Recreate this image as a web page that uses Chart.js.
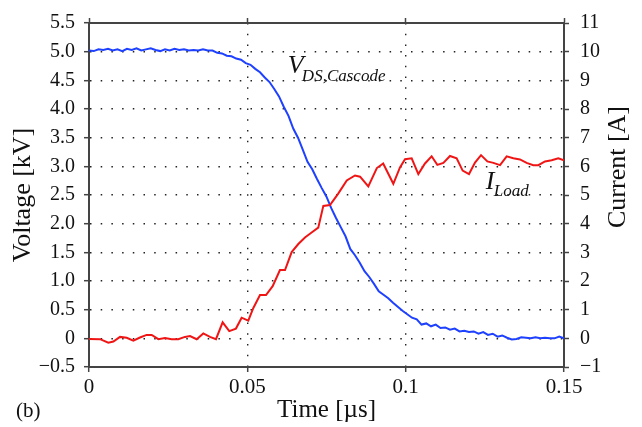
<!DOCTYPE html>
<html>
<head>
<meta charset="utf-8">
<script src="https://cdn.jsdelivr.net/npm/chart.js@4"></script>
<style>
  html, body { margin: 0; padding: 0; background: #fff; }
  canvas { display: block; }
</style>
</head>
<body>
<canvas id="c" width="642" height="427"></canvas>
<script>
// voltage samples, one every 0.0015 us from 0 to 0.15
var voltStep = 0.0015;
var voltage = [
  5.02, 5.01, 5.04, 5.03, 5.05, 5.02, 5.04, 5.01, 5.05, 5.03,
  5.06, 5.02, 5.04, 5.06, 5.03, 5.01, 5.04, 5.02, 5.05, 5.03,
  5.04, 5.02, 5.03, 5.02, 5.04, 5.02, 5.02, 4.98, 4.97, 4.93,
  4.92, 4.88, 4.86, 4.80, 4.77, 4.70, 4.64, 4.55, 4.47, 4.35,
  4.22, 4.04, 3.88, 3.66, 3.50, 3.29, 3.08, 2.95, 2.78, 2.62,
  2.47, 2.27, 2.10, 1.94, 1.78, 1.56, 1.45, 1.32, 1.17, 1.07,
  0.95, 0.82, 0.76, 0.70, 0.62, 0.55, 0.48, 0.42, 0.36, 0.33,
  0.24, 0.26, 0.21, 0.24, 0.18, 0.19, 0.15, 0.17, 0.12, 0.13,
  0.11, 0.12, 0.08, 0.11, 0.06, 0.08, 0.03, 0.05, 0.01, -0.02,
  -0.01, 0.02, 0.01, 0.00, 0.02, 0.00, 0.01, 0.00, 0.00, 0.03,
  0.00
];

// load current samples
var currentTime = [
  0, 0.0035, 0.0061, 0.0077, 0.0098, 0.0119, 0.0140, 0.0161, 0.0182, 0.0198,
  0.0219, 0.0240, 0.0261, 0.0282, 0.0303, 0.0319, 0.0340, 0.0361, 0.0382, 0.0401,
  0.0422, 0.0443, 0.0464, 0.0482, 0.0503, 0.0519, 0.0540, 0.0559, 0.0580, 0.0603,
  0.0619, 0.0640, 0.0661, 0.0682, 0.0703, 0.0724, 0.0740, 0.0761, 0.0787, 0.0814,
  0.0840, 0.0856, 0.0882, 0.0909, 0.0929, 0.0961, 0.0982, 0.0998, 0.1019, 0.1040,
  0.1061, 0.1082, 0.1100, 0.1119, 0.1140, 0.1161, 0.1180, 0.1200, 0.1219, 0.1238,
  0.1258, 0.1277, 0.1298, 0.1319, 0.1340, 0.1361, 0.1382, 0.1403, 0.1419, 0.1440,
  0.1461, 0.1482, 0.1500
];
var current = [
  -0.02, -0.03, -0.15, -0.11, 0.05, 0.02, -0.08, 0.03, 0.12, 0.12,
  -0.03, 0.01, -0.03, -0.03, 0.05, 0.08, -0.03, 0.17, 0.05, -0.03,
  0.56, 0.25, 0.34, 0.72, 0.62, 1.06, 1.51, 1.51, 1.82, 2.38,
  2.38, 3.01, 3.29, 3.52, 3.69, 3.86, 4.62, 4.65, 5.05, 5.51,
  5.68, 5.64, 5.30, 5.94, 6.10, 5.39, 5.96, 6.25, 6.28, 5.73,
  6.10, 6.35, 6.05, 6.12, 6.36, 6.28, 5.85, 5.73, 6.13, 6.39,
  6.17, 6.12, 6.04, 6.35, 6.28, 6.24, 6.12, 6.04, 6.04, 6.17,
  6.21, 6.28, 6.21
];

var timeTicks = [0, 0.05, 0.1, 0.15];
var timeLabels = ['0', '0.05', '0.1', '0.15'];
var voltLabels = ['\u22120.5', '0', '0.5', '1.0', '1.5', '2.0', '2.5', '3.0', '3.5', '4.0', '4.5', '5.0', '5.5'];
var currLabels = ['\u22121', '0', '1', '2', '3', '4', '5', '6', '7', '8', '9', '10', '11'];

var serif = '"Liberation Serif", "DejaVu Serif", serif';
var axisCol = '#444';

var voltPoints = voltage.map(function (v, i) { return { x: i * voltStep, y: v }; });
var currPoints = current.map(function (v, i) { return { x: currentTime[i], y: v }; });

function pickLabel(value, labels, min, step) {
  var i = Math.round((value - min) / step);
  return labels[i] !== undefined ? labels[i] : '';
}

var dotted = [1.5, 9.2];

var extras = {
  id: 'extras',
  afterDraw: function (chart) {
    var ctx = chart.ctx;
    var x = chart.scales.x, y = chart.scales.y;
    ctx.save();
    ctx.fillStyle = '#111';
    // right axis title
    ctx.save();
    ctx.translate(618, 167);
    ctx.rotate(-Math.PI / 2);
    ctx.font = '26px ' + serif;
    ctx.textAlign = 'center';
    ctx.textBaseline = 'middle';
    ctx.fillText('Current [A]', 0, 0);
    ctx.restore();
    // panel tag
    ctx.font = '21px ' + serif;
    ctx.textAlign = 'left';
    ctx.textBaseline = 'alphabetic';
    ctx.fillText('(b)', 16, 417);
    // curve names
    var vx = x.getPixelForValue(0.0628), vy = y.getPixelForValue(4.62);
    ctx.font = 'italic 26px ' + serif;
    ctx.fillText('V', vx, vy);
    ctx.font = 'italic 17px ' + serif;
    ctx.fillText('DS,Cascode', vx + 14, vy + 8);
    var ix = x.getPixelForValue(0.1253), iy = y.getPixelForValue(2.61);
    ctx.font = 'italic 26px ' + serif;
    ctx.fillText('I', ix, iy);
    ctx.font = 'italic 17px ' + serif;
    ctx.fillText('Load', ix + 8, iy + 7);
    ctx.restore();
  }
};

new Chart(document.getElementById('c'), {
  type: 'line',
  data: {
    datasets: [
      {
        label: 'I Load',
        data: currPoints,
        yAxisID: 'y1',
        borderColor: '#f01515',
        borderWidth: 2,
        pointRadius: 0,
        tension: 0
      },
      {
        label: 'V DS,Cascode',
        data: voltPoints,
        yAxisID: 'y',
        borderColor: '#1e40ff',
        borderWidth: 2,
        pointRadius: 0,
        tension: 0
      }
    ]
  },
  options: {
    responsive: false,
    animation: false,
    devicePixelRatio: 1,
    layout: { padding: 0 },
    plugins: {
      legend: { display: false },
      tooltip: { enabled: false }
    },
    scales: {
      x: {
        type: 'linear',
        position: 'bottom',
        min: 0,
        max: 0.15,
        afterBuildTicks: function (s) { s.ticks = timeTicks.map(function (v) { return { value: v }; }); },
        afterFit: function (s) { s.height = 60; },
        ticks: {
          color: '#111',
          font: { family: serif, size: 21 },
          padding: 3,
          maxRotation: 0,
          callback: function (v) { return pickLabel(v, timeLabels, 0, 0.05); }
        },
        grid: { color: '#222', lineWidth: 1.4, tickColor: axisCol, tickLength: 5, tickWidth: 1.5 },
        border: { display: true, color: axisCol, width: 2, dash: dotted },
        title: {
          display: true,
          text: 'Time [\u00b5s]',
          color: '#111',
          font: { family: serif, size: 25 },
          padding: { top: 0, bottom: 2 }
        }
      },
      x2: {
        type: 'linear',
        position: 'top',
        min: 0,
        max: 0.15,
        afterBuildTicks: function (s) { s.ticks = timeTicks.map(function (v) { return { value: v }; }); },
        afterFit: function (s) { s.height = 15; },
        ticks: { display: false },
        grid: { drawOnChartArea: false, tickColor: axisCol, tickLength: 5, tickWidth: 1.5 },
        border: { display: true, color: axisCol, width: 2 }
      },
      y: {
        type: 'linear',
        position: 'left',
        min: -0.5,
        max: 5.5,
        ticks: {
          stepSize: 0.5,
          color: '#111',
          font: { family: serif, size: 20 },
          padding: 9,
          callback: function (v) { return pickLabel(v, voltLabels, -0.5, 0.5); }
        },
        afterFit: function (s) { s.width = 89; },
        grid: { color: '#222', lineWidth: 1.4, tickColor: axisCol, tickLength: 5, tickWidth: 1.5 },
        border: { display: true, color: axisCol, width: 2, dash: dotted },
        title: {
          display: true,
          text: 'Voltage [kV]',
          color: '#111',
          font: { family: serif, size: 26 },
          padding: { top: 8, bottom: 0 }
        }
      },
      y1: {
        type: 'linear',
        position: 'right',
        min: -1,
        max: 11,
        ticks: {
          stepSize: 1,
          color: '#111',
          font: { family: serif, size: 20 },
          padding: 11,
          callback: function (v) { return pickLabel(v, currLabels, -1, 1); }
        },
        afterFit: function (s) { s.width = 78; },
        grid: { drawOnChartArea: false, tickColor: axisCol, tickLength: 5, tickWidth: 1.5 },
        border: { display: true, color: axisCol, width: 2 }
      }
    }
  },
  plugins: [extras]
});
</script>
</body>
</html>
